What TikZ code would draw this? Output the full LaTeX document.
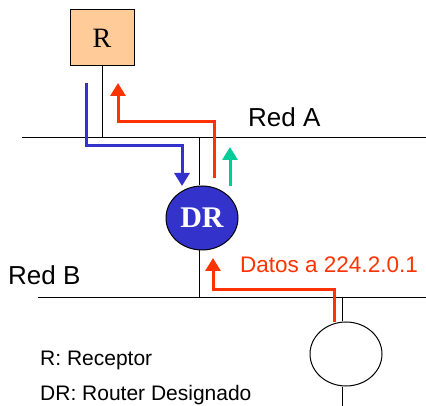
\documentclass[tikz,border=0pt]{standalone}
\usepackage{fontspec}
\setmainfont{Liberation Sans}
\newfontfamily\serifx{Liberation Serif}
\usetikzlibrary{arrows.meta,shapes.geometric}
\definecolor{peach}{HTML}{FFCC99}
\definecolor{drblue}{HTML}{3333CC}
\definecolor{flowred}{HTML}{FF3300}
\definecolor{flowgreen}{HTML}{00CC99}
\tikzset{
  net/.style={line width=1pt,draw=black},
  flow/.style={line width=3pt,line join=miter,-{Triangle[width=15pt,length=13pt]}},
  lbl/.style={inner sep=0pt,anchor=base west,font=\fontsize{26}{28}\selectfont},
  legend/.style={inner sep=0pt,anchor=base west,font=\fontsize{21}{24}\selectfont},
}
\begin{document}
\begin{tikzpicture}[x=1pt,y=-1pt]
\useasboundingbox (0,0) rectangle (426,406);
% nodes
\node[draw=black,fill=peach,line width=1pt,minimum width=64pt,minimum height=56pt,inner sep=0pt,font=\serifx\fontsize{28}{30}\selectfont] (R) at (102,38) {R};
\node[ellipse,draw=black,fill=drblue,line width=1pt,minimum width=72pt,minimum height=64pt,inner sep=0pt,text=white,font=\serifx\bfseries\fontsize{30}{32}\selectfont] (DR) at (202,218) {DR};
\node[ellipse,draw=black,fill=white,line width=1pt,minimum width=72pt,minimum height=64pt,inner sep=0pt] (H) at (346,354) {};
% networks
\coordinate (A1) at (22,138);
\coordinate (A2) at (426,138);
\coordinate (B1) at (38,298);
\coordinate (B2) at (426,298);
\draw[net] (A1) -- (A2);
\draw[net] (B1) -- (B2);
\coordinate (RA) at (R.south |- A1);
\draw[net] (R.south) -- (RA);
\coordinate (DA) at (199,138);
\draw[net] (DA) -- (DA |- DR.north);
\coordinate (DB) at (199,298);
\draw[net] (DB) -- (DB |- DR.south);
\coordinate (HB) at (342,298);
\draw[net] (HB) -- (HB |- H.north);
\coordinate (HBot) at (342,406);
\draw[net] (HBot) -- (HBot |- H.south);
% labels
\node[lbl] (la) at (248,127) {Red A};
\node[lbl] (lb) at (8,285) {Red B};
\node[legend] (l1) at (40,365) {R: Receptor};
\node[legend] (l2) at (40,400) {DR: Router Designado};
\node[inner sep=0pt,anchor=base west,text=flowred,font=\fontsize{22.5}{25}\selectfont] (dat) at (240,273) {Datos a 224.2.0.1};
% flows
\coordinate (b0) at (86,83);
\coordinate (b1) at (86,146);
\coordinate (b2) at (182,146);
\coordinate (b3) at (182,186);
\draw[flow,drblue] (b0) -- (b1) -- (b2) -- (b3);
\coordinate (r0) at (214,178);
\coordinate (r1) at (214,122);
\coordinate (r2) at (118,122);
\coordinate (r3) at (118,83);
\draw[flow,flowred] (r0) -- (r1) -- (r2) -- (r3);
\coordinate (g0) at (230,186);
\coordinate (g1) at (230,147);
\draw[flow,flowgreen] (g0) -- (g1);
\coordinate (s0) at (334,322);
\coordinate (s1) at (334,290);
\coordinate (s2) at (213,290);
\coordinate (s3) at (213,258);
\draw[flow,flowred] (s0) -- (s1) -- (s2) -- (s3);
\end{tikzpicture}
\end{document}
